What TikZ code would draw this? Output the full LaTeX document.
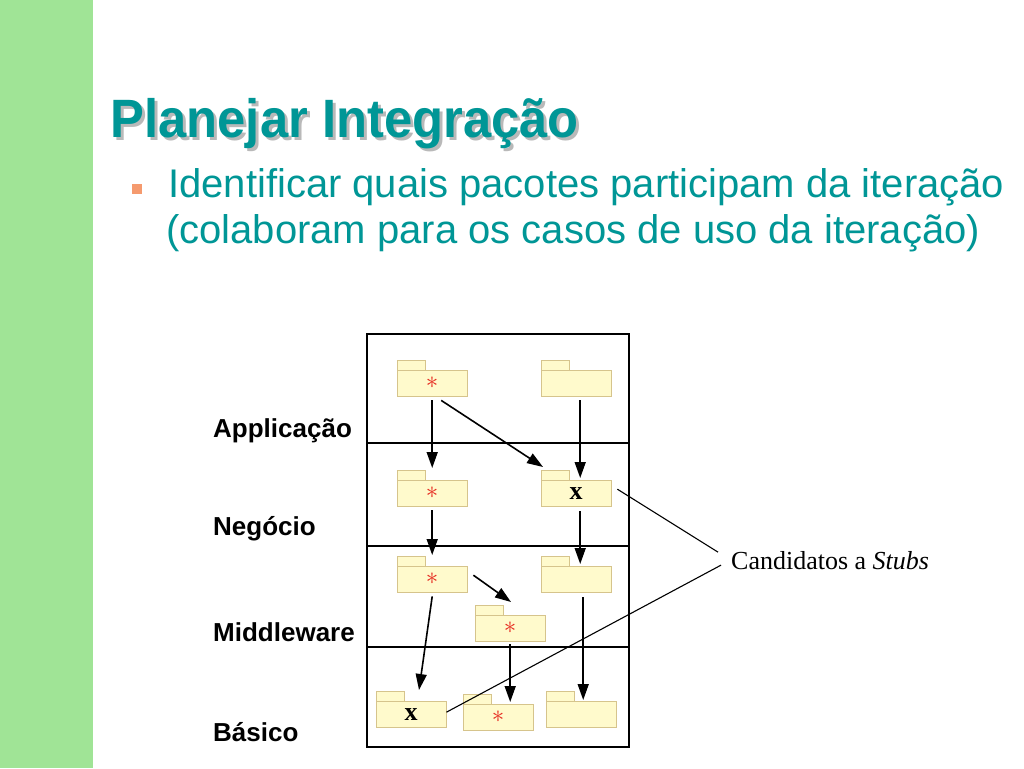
\documentclass[tikz,border=0pt]{standalone}
\usepackage{fontspec}
\setmainfont{Liberation Serif}
\setsansfont{Liberation Sans}
\newfontfamily\titlefont[FakeStretch=0.94]{Liberation Sans Bold}
\usetikzlibrary{arrows.meta,positioning}
\definecolor{stripgreen}{RGB}{160,228,150}
\definecolor{teal}{RGB}{0,150,150}
\definecolor{bulletorange}{RGB}{245,154,110}
\definecolor{pkgfill}{RGB}{255,250,204}
\definecolor{pkgline}{RGB}{214,196,140}
\definecolor{starred}{RGB}{230,40,30}
\tikzset{
  pkg/.style={draw=pkgline, fill=pkgfill, anchor=north west, inner sep=0pt,
    minimum width=70pt, minimum height=26pt},
  pkgtab/.style={draw=pkgline, fill=pkgfill},
  layer/.style={line width=1.8pt},
  layerlabel/.style={anchor=base west, inner sep=0pt, font=\sffamily\bfseries\fontsize{26}{30}\selectfont},
  dep/.style={line width=1.6pt, -{Triangle[length=16pt,width=11pt]}},
  callout/.style={line width=1.1pt}
}
% package: name, x, y (top left of body), label
\newcommand{\package}[4]{%
  \draw[pkgtab] (#2,#3) rectangle ++(28,-10);
  \node[pkg] (#1) at (#2,#3) {#4};}
\newcommand{\st}{\raisebox{-4pt}{\textcolor{starred}{\fontsize{34}{34}\selectfont$\ast$}}}
\newcommand{\xx}{\raisebox{-2pt}{\fontsize{26}{26}\selectfont\textbf{x}}}
\begin{document}
\begin{tikzpicture}[x=1pt,y=-1pt]
\useasboundingbox (0,0) rectangle (1024,768);
\fill[stripgreen] (0,0) rectangle (93,768);
% title
\node[anchor=base west, text=gray!55, font=\titlefont\fontsize{54}{60}\selectfont] at (110,140) {Planejar Integração};
\node (title) [anchor=base west, text=teal, font=\titlefont\fontsize{54}{60}\selectfont] at (107,137) {Planejar Integração};
\fill[bulletorange] (132,184) rectangle (142,194);
\node (line1) [anchor=base west, text=teal, font=\sffamily\fontsize{40}{46}\selectfont, inner sep=0pt] at (168,197) {Identificar quais pacotes participam da iteração};
\node (line2) [anchor=base west, text=teal, font=\sffamily\fontsize{40}{46}\selectfont, inner sep=0pt] at ([xshift=-2pt,yshift=-46pt]line1.base west) {(colaboram para os casos de uso da iteração)};
% layers
\draw[layer] (367,334) rectangle (629,443);
\draw[layer] (367,443) rectangle (629,546);
\draw[layer] (367,546) rectangle (629,647);
\draw[layer] (367,647) rectangle (629,747);
\node (lapp) [layerlabel] at (213,437) {Applicação};
\node (lneg) [layerlabel] at (213,535) {Negócio};
\node (lmid) [layerlabel] at (213,641) {Middleware};
\node (lbas) [layerlabel] at (213,741) {Básico};
% packages
\package{a1}{397}{370}{\st}
\package{a2}{541}{370}{}
\package{n1}{397}{480}{\st}
\package{n2}{541}{480}{\xx}
\package{m1}{397}{566}{\st}
\package{m2}{541}{566}{}
\package{m3}{475}{615}{\st}
\package{b1}{376}{701}{\xx}
\package{b2}{463}{704}{\st}
\package{b3}{546}{701}{}
% dependencies
\draw[dep] ([yshift=-4pt]a1.south) -- ([yshift=12pt]n1.north);
\draw[dep] ([shift={(9pt,-4pt)}]a1.south) -- ([shift={(2pt,13pt)}]n2.north west);
\draw[dep] ([shift={(4pt,-4pt)}]a2.south) -- ([shift={(4pt,2pt)}]n2.north);
\draw[dep] ([yshift=-4pt]n1.south) -- ([yshift=11pt]m1.north);
\draw[dep] ([shift={(4pt,-5pt)}]n2.south) -- ([shift={(4pt,2pt)}]m2.north);
\draw[dep] ([shift={(6pt,4pt)}]m1.east) -- ([shift={(36pt,13pt)}]m3.north west);
\draw[dep] ([yshift=-4pt]m1.south) -- ([shift={(43pt,11pt)}]b1.north west);
\draw[dep] ([yshift=-3pt]m3.south) -- ([shift={(12pt,2pt)}]b2.north);
\draw[dep] ([shift={(7pt,-5pt)}]m2.south) -- ([shift={(2pt,1pt)}]b3.north);
% stubs
\node (cand) [anchor=base west, inner sep=0pt, font=\fontsize{26}{30}\selectfont] at (731,569) {Candidatos a \textit{Stubs}};
\draw[callout] ([shift={(6pt,4pt)}]n2.east) -- ([shift={(-13pt,8pt)}]cand.west);
\draw[callout] ([yshift=2pt]b1.east) -- ([shift={(-10pt,-5pt)}]cand.west);
\end{tikzpicture}
\end{document}
